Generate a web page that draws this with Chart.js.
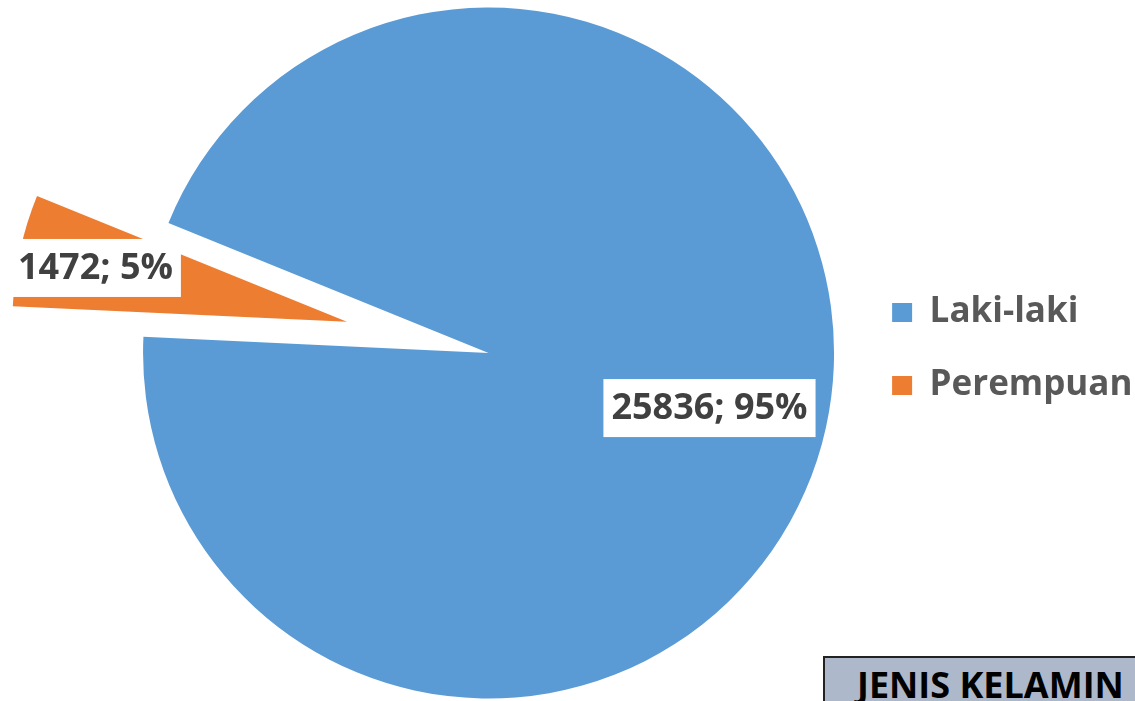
<!DOCTYPE html>
<html>
<head>
<meta charset="utf-8">
<script src="https://cdn.jsdelivr.net/npm/chart.js@4.4.1/dist/chart.umd.min.js"></script>
<style>
  html, body { margin:0; padding:0; background:#fff; overflow:hidden; }
  #wrap { position:relative; width:1135px; height:701px; }
  #judul { position:absolute; left:823px; top:656px; width:360px; height:70px; box-sizing:border-box;
           background:#ADB9CA; border:2px solid #222; font-family:"Open Sans"; font-weight:bold; font-size:36px;
           line-height:49px; padding:2px 0 0 32px; color:#000; white-space:nowrap; }
</style>
</head>
<body>
<div id="wrap">
  <canvas id="myChart"></canvas>
  <div id="judul">JENIS KELAMIN</div>
</div>
<script>
var kategori = ["Laki-laki", "Perempuan"];
var jumlah = [25836, 1472];
var persen = [95, 5];
var warna = ["#5B9BD5", "#ED7D31"];

// geser irisan keluar (explode) tanpa membesarkan jari-jari
var pecah = {
	id: 'pecah',
	afterLayout: function(chart, args, opts) {
		// legenda sedikit digeser agar posisinya sama dengan gambar
		var lg = chart.legend;
		lg.left += opts.legendaX; lg.right += opts.legendaX;
		lg.top += opts.legendaY; lg.bottom += opts.legendaY;
	},
	afterDatasetsUpdate: function(chart, args, opts) {
		var meta = chart.getDatasetMeta(0);
		meta.data.forEach(function(arc, i) {
			var d = opts.jarak[i] || 0;
			if (!d) return;
			var mid = (arc.startAngle + arc.endAngle) / 2;
			arc.x += Math.cos(mid) * d;
			arc.y += Math.sin(mid) * d;
			arc.outerRadius -= opts.susut[i] || 0;
		});
	}
};

var labelIsi = {
	id: 'labelIsi',
	afterDatasetsDraw: function(chart, args, opts) {
		var ctx = chart.ctx;
		var meta = chart.getDatasetMeta(0);
		ctx.save();
		ctx.font = 'bold 36px "Open Sans"';
		ctx.textAlign = 'center';
		ctx.textBaseline = 'middle';
		meta.data.forEach(function(arc, i) {
			var teks = jumlah[i] + '; ' + persen[i] + '%';
			var mid = (arc.startAngle + arc.endAngle) / 2 + opts.geser[i] * Math.PI / 180;
			var r = arc.outerRadius * opts.posisi[i];
			var x = arc.x + Math.cos(mid) * r;
			var y = arc.y + Math.sin(mid) * r;
			var w = ctx.measureText(teks).width + 16;
			ctx.fillStyle = '#fff';
			ctx.fillRect(x - w / 2, y - 29, w, 58);
			ctx.fillStyle = '#404040';
			ctx.fillText(teks, x, y + 1);
		});
		ctx.restore();
	}
};

var chart = new Chart("myChart", {
	type: "pie",
	data: {
		labels: kategori,
		datasets: [{
			data: jumlah,
			backgroundColor: warna,
			borderWidth: 0,
			radius: 345.5,
			clip: false
		}]
	},
	options: {
		responsive: true,
		maintainAspectRatio: false,
		animation: false,
		rotation: 292.1,
		layout: { padding: { left: 130.5, right: 0, top: 5, bottom: 0 } },
		plugins: {
			tooltip: { enabled: false },
			legend: {
				position: 'right',
				labels: {
					font: { family: 'Open Sans', size: 35, weight: 'bold' },
					color: '#595959',
					boxWidth: 20,
					boxHeight: 19,
					padding: 38
				}
			},
			pecah: { jarak: [0, 145], susut: [0, 11], legendaX: 7.5, legendaY: -4 },
			labelIsi: { posisi: [0.659, 0.769], geser: [1.6, -0.3] }
		}
	},
	plugins: [pecah, labelIsi]
});
</script>
</body>
</html>
